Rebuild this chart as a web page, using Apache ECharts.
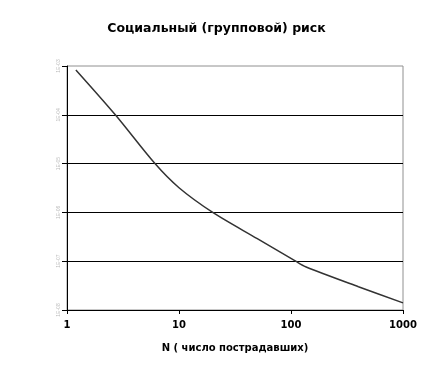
<!DOCTYPE html>
<html><head><meta charset="utf-8">
<script src="https://cdn.jsdelivr.net/npm/echarts@6/dist/echarts.min.js"></script>
<style>html,body{margin:0;padding:0;background:#fff}#c{width:433px;height:377px}</style>
</head><body><div id="c"></div>
<script>
const titleText = 'Социальный (групповой) риск';
const xName = 'N ( число пострадавших)';
const nValues = [1.2, 2.7, 6.1, 10, 20, 50, 110, 135, 400, 1000];
const fValues = [8.3e-4, 1e-4, 1e-5, 3.2e-6, 1e-6, 2.9e-7, 1e-7, 7.7e-8, 3e-8, 1.4e-8];
const yTickLabels = ['1E-08','1E-07','1E-06','1E-05','1E-04','1E-03'];
const yMin = 1e-8, yMax = 1e-3;

const chart = echarts.init(document.getElementById('c'));
chart.setOption({
  animation: false,
  backgroundColor: '#fff',
  title: {
    text: titleText, left: 'center', top: 17,
    textStyle: {fontFamily: 'DejaVu Sans', fontSize: 12.5, fontWeight: 'bold', color: '#000'}
  },
  grid: {left: 67, right: 30, top: 66, bottom: 67, show: true, borderColor: '#909090', borderWidth: 1},
  xAxis: {
    type: 'log', logBase: 10, min: 1, max: 1000,
    name: xName, nameLocation: 'middle', nameGap: 33,
    nameTextStyle: {fontFamily: 'DejaVu Sans', fontSize: 10, fontWeight: 'bold', color: '#000'},
    axisLine: {lineStyle: {color: '#000', width: 1}},
    axisTick: {show: true, length: 4, lineStyle: {color: '#000'}},
    minorTick: {show: false},
    splitLine: {show: false},
    axisLabel: {fontFamily: 'DejaVu Sans', fontSize: 10, fontWeight: 'bold', color: '#000', margin: 10,
      formatter: v => String(Math.round(v))}
  },
  yAxis: [{
    type: 'log', logBase: 10, min: yMin, max: yMax,
    axisLine: {show: true, lineStyle: {color: '#000', width: 1}},
    axisTick: {show: true, length: 5, lineStyle: {color: '#000'}},
    splitLine: {show: false},
    axisLabel: {fontFamily: 'Liberation Sans', fontSize: 5, color: '#bbb', rotate: 90, margin: 6,
      formatter: (v) => { const e = Math.round(Math.log10(v)); return yTickLabels[e + 8] || ''; }}
  }, {
    type: 'value', min: 0, max: 5, interval: 1, position: 'right',
    axisLine: {show: false}, axisTick: {show: false}, axisLabel: {show: false},
    splitLine: {show: true, showMinLine: false, showMaxLine: false,
      lineStyle: {color: ['#000', '#000', '#000', '#000', '#000', '#909090'], width: 1}}
  }],
  series: [{
    type: 'line', yAxisIndex: 0, data: nValues.map((n, i) => [n, fValues[i]]),
    smooth: 0.3, showSymbol: false, symbol: 'none',
    lineStyle: {color: '#333', width: 1.5}
  }]
});
</script></body></html>
